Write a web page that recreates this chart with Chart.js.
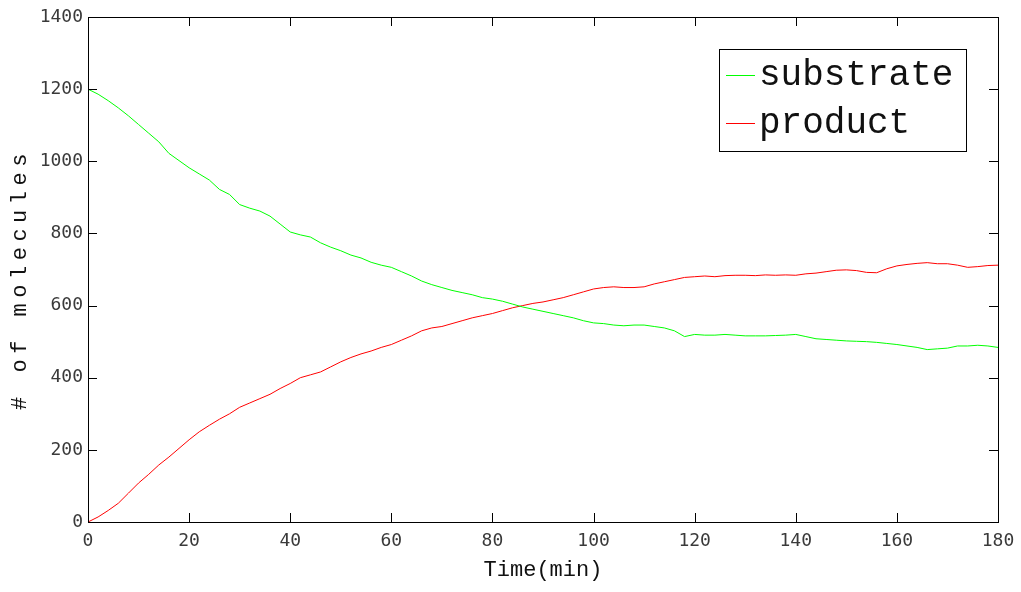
<!DOCTYPE html>
<html>
<head>
<meta charset="utf-8">
<script src="https://cdn.jsdelivr.net/npm/chart.js@4/dist/chart.umd.min.js"></script>
<style>
  html, body { margin: 0; padding: 0; background: #fff; }
  #wrap { width: 1021px; height: 592px; }
</style>
</head>
<body>
<div id="wrap"><canvas id="chart" width="1021" height="592"></canvas></div>
<script>
// --- data ---
const timeMin = [0,2,4,6,8,10,12,14,16,18,20,22,24,26,28,30,32,34,36,38,40,42,44,46,48,50,52,54,56,58,60,62,64,66,68,70,72,74,76,78,80,82,84,86,88,90,92,94,96,98,100,102,104,106,108,110,112,114,116,118,120,122,124,126,128,130,132,134,136,138,140,142,144,146,148,150,152,154,156,158,160,162,164,166,168,170,172,174,176,178,180];

const substrate = [1200,1186,1168,1148,1126,1102,1078,1054,1022,1002,982,965,948,922,908,880,870,862,848,826,804,796,790,774,762,752,740,732,720,712,706,694,682,668,658,650,642,636,630,622,618,612,604,596,590,584,578,572,566,558,552,550,546,544,546,546,542,538,530,514,520,518,518,520,518,516,516,516,517,518,520,514,508,506,504,502,501,500,498,495,492,488,484,478,480,482,488,488,490,488,484];

const product = [0,14,32,52,80,108,132,158,180,204,228,250,268,285,300,318,330,342,354,370,384,400,408,416,430,444,456,466,474,484,492,504,516,530,538,542,550,558,566,572,578,586,594,600,606,610,616,622,630,638,646,650,652,650,650,652,660,666,672,678,680,682,680,683,684,684,683,685,684,685,684,688,690,694,698,699,697,692,691,702,710,714,717,719,716,716,712,706,708,711,712];

const xTicks = [0,20,40,60,80,100,120,140,160,180];
const yTicks = [0,200,400,600,800,1000,1200,1400];

const seriesNames = ['substrate', 'product'];
const seriesColors = ['#00ff00', '#ff0000'];
const yTitle = '# of molecules';

// box + inward ticks on all four sides, matlab style
const frameTicks = {
  id: 'frameTicks',
  afterDatasetsDraw(chart) {
    const { ctx, chartArea: a, scales } = chart;
    const len = 9;
    ctx.save();
    ctx.strokeStyle = '#000';
    ctx.lineWidth = 1;
    ctx.beginPath();
    xTicks.forEach(v => {
      const px = Math.round(scales.x.getPixelForValue(v)) + 0.5;
      ctx.moveTo(px, a.bottom); ctx.lineTo(px, a.bottom - len);
      ctx.moveTo(px, a.top); ctx.lineTo(px, a.top + len);
    });
    yTicks.forEach(v => {
      const py = Math.round(scales.y.getPixelForValue(v)) + 0.5;
      ctx.moveTo(a.left, py); ctx.lineTo(a.left + len, py);
      ctx.moveTo(a.right, py); ctx.lineTo(a.right - len, py);
    });
    ctx.stroke();
    ctx.strokeRect(Math.round(a.left) + 0.5, Math.round(a.top) + 0.5,
                   Math.round(a.right - a.left), Math.round(a.bottom - a.top));
    ctx.restore();
  }
};

// y title drawn by hand, the reference spaces its letters out
const spacedYTitle = {
  id: 'spacedYTitle',
  afterDraw(chart) {
    const ctx = chart.ctx;
    ctx.save();
    ctx.translate(20, 279);
    ctx.rotate(-Math.PI / 2);
    ctx.font = '22px "Liberation Mono"';
    ctx.letterSpacing = '5.5px';
    ctx.fillStyle = '#111';
    ctx.textAlign = 'center';
    ctx.textBaseline = 'middle';
    ctx.fillText(yTitle, 0, 0);
    ctx.restore();
  }
};

// legend box in the upper right
const boxLegend = {
  id: 'boxLegend',
  afterDraw(chart) {
    const ctx = chart.ctx;
    const x0 = 719, y0 = 49, w = 247, h = 102;
    ctx.save();
    ctx.fillStyle = '#fff';
    ctx.fillRect(x0, y0, w, h);
    ctx.strokeStyle = '#000';
    ctx.lineWidth = 1;
    ctx.strokeRect(x0 + 0.5, y0 + 0.5, w, h);
    ctx.font = '36px "Liberation Mono"';
    ctx.textBaseline = 'middle';
    chart.data.datasets.forEach((ds, i) => {
      const cy = y0 + 26 + i * 48;
      ctx.strokeStyle = ds.borderColor;
      ctx.beginPath();
      ctx.moveTo(x0 + 7, cy + 0.5);
      ctx.lineTo(x0 + 36, cy + 0.5);
      ctx.stroke();
      ctx.fillStyle = '#111';
      ctx.fillText(ds.label, x0 + 40, cy);
    });
    ctx.restore();
  }
};

const tickFont = { family: '"DejaVu Sans Mono"', size: 18 };
const titleFont = { family: '"Liberation Mono"', size: 22 };

new Chart(document.getElementById('chart'), {
  type: 'line',
  data: {
    datasets: [
      { label: seriesNames[0], data: timeMin.map((t, i) => ({ x: t, y: substrate[i] })), borderColor: seriesColors[0] },
      { label: seriesNames[1], data: timeMin.map((t, i) => ({ x: t, y: product[i] })), borderColor: seriesColors[1] }
    ]
  },
  options: {
    responsive: false,
    animation: false,
    layout: { padding: { left: 0, right: 23, top: 17, bottom: 0 } },
    elements: { point: { radius: 0 }, line: { borderWidth: 1, tension: 0 } },
    plugins: { legend: { display: false }, tooltip: { enabled: false } },
    scales: {
      x: {
        type: 'linear', min: 0, max: 180,
        afterFit(s) { s.height = 70; s.paddingLeft = 0; s.paddingRight = 0; },
        afterBuildTicks(s) { s.ticks = xTicks.map(v => ({ value: v })); },
        grid: { display: false, drawTicks: false },
        border: { display: false },
        ticks: { font: tickFont, color: '#3a3a3a', padding: 9, maxRotation: 0, callback: v => String(v) },
        title: { display: true, text: 'Time(min)', font: titleFont, color: '#111', padding: { top: 0, bottom: 9 } }
      },
      y: {
        type: 'linear', min: 0, max: 1400,
        afterFit(s) { s.width = 88; s.paddingTop = 0; s.paddingBottom = 0; },
        afterBuildTicks(s) { s.ticks = yTicks.map(v => ({ value: v })); },
        grid: { display: false, drawTicks: false },
        border: { display: false },
        ticks: { font: tickFont, color: '#3a3a3a', padding: 5, callback: v => String(v) },
        title: { display: false }
      }
    }
  },
  plugins: [frameTicks, spacedYTitle, boxLegend]
});
</script>
</body>
</html>
